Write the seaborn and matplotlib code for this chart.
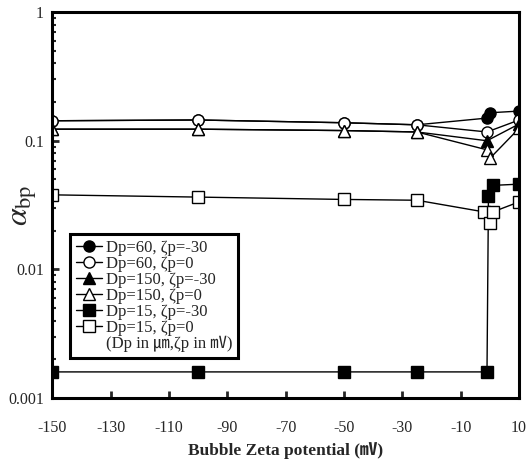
import matplotlib
matplotlib.use("Agg")
import matplotlib.pyplot as plt
from matplotlib.lines import Line2D
from matplotlib.ticker import FixedLocator, LogLocator, NullFormatter
import numpy as np
import pandas as pd
import seaborn as sns

# Bubble zeta potential (mV) and collision-attachment efficiency alpha_bp
x_d60_m30 = [-150, -100, -50, -25, -1, 0, 10]
y_d60_m30 = [0.143, 0.145, 0.138, 0.133, 0.15, 0.165, 0.17]

x_d60_0 = [-150, -100, -50, -25, -1, 10]
y_d60_0 = [0.143, 0.145, 0.138, 0.133, 0.117, 0.145]

x_d150_m30 = [-150, -100, -50, -25, -1, 10]
y_d150_m30 = [0.123, 0.123, 0.12, 0.117, 0.10, 0.135]

x_d150_0 = [-150, -100, -50, -25, -1, 0, 10]
y_d150_0 = [0.123, 0.123, 0.12, 0.117, 0.085, 0.073, 0.125]

x_d15_m30 = [-150, -100, -50, -25, -1, -0.5, 1, 10]
y_d15_m30 = [0.0016, 0.0016, 0.0016, 0.0016, 0.0016, 0.037, 0.045, 0.046]

x_d15_0 = [-150, -100, -50, -25, -2, 0, 1, 10]
y_d15_0 = [0.038, 0.0365, 0.035, 0.0345, 0.028, 0.023, 0.028, 0.0335]

series_labels = ["Dp=60, ζp=-30", "Dp=60, ζp=0", "Dp=150, ζp=-30",
                 "Dp=150, ζp=0", "Dp=15, ζp=-30", "Dp=15, ζp=0"]
unit_note = "(Dp in ㎛,ζp in ㎷)"

x_ticks = [-150, -130, -110, -90, -70, -50, -30, -10, 10]
y_ticks = [0.001, 0.01, 0.1, 1]
y_tick_labels = ["0.001", "0.01", "0.1", "1"]

sns.set_theme(style="ticks")
plt.rcParams["font.family"] = ["Liberation Serif", "Noto Sans CJK JP"]
plt.rcParams["mathtext.fontset"] = "stix"

fig = plt.figure(figsize=(5.27, 4.63), dpi=100)
ax = fig.add_axes([0.099, 0.14, 0.886, 0.834])

series = [
    (x_d60_m30, y_d60_m30, "o", "black"),
    (x_d60_0, y_d60_0, "o", "white"),
    (x_d150_m30, y_d150_m30, "^", "black"),
    (x_d150_0, y_d150_0, "^", "white"),
    (x_d15_m30, y_d15_m30, "s", "black"),
    (x_d15_0, y_d15_0, "s", "white"),
]

handles = []
for (xs, ys, mk, face), lab in zip(series, series_labels):
    df = pd.DataFrame({"zeta": xs, "alpha": ys})
    sns.lineplot(data=df, x="zeta", y="alpha", ax=ax, sort=False,
                 color="black", linewidth=1.0, marker=mk, markersize=8,
                 markerfacecolor=face, markeredgecolor="black",
                 markeredgewidth=1.0, legend=False)
    handles.append(Line2D([], [], color="black", linewidth=1.0, marker=mk,
                          markersize=8, markerfacecolor=face,
                          markeredgecolor="black", label=lab))
handles.append(Line2D([], [], color="none", label=unit_note))

ax.set_yscale("log")
ax.set_xlim(-150, 10)
ax.set_ylim(0.001, 1)
ax.xaxis.set_major_locator(FixedLocator(x_ticks))
ax.set_xticklabels([str(t) for t in x_ticks])
ax.yaxis.set_major_locator(FixedLocator(y_ticks))
ax.set_yticklabels(y_tick_labels)
ax.yaxis.set_minor_locator(LogLocator(base=10, subs=np.arange(2, 10)))
ax.yaxis.set_minor_formatter(NullFormatter())

ax.tick_params(axis="x", which="major", direction="in", length=5, width=2,
               labelsize=11.5, pad=16, top=False)
ax.tick_params(axis="y", which="major", direction="in", length=5, width=2,
               labelsize=11.5, pad=6, right=False)
ax.tick_params(axis="y", which="minor", direction="in", length=3, width=1.5,
               right=False)

for sp in ax.spines.values():
    sp.set_visible(True)
    sp.set_linewidth(2.2)
    sp.set_color("black")

ax.set_xlabel("Bubble Zeta potential (㎷)", fontsize=12.5, fontweight="bold",
              labelpad=4)
ax.set_ylabel(r"$\alpha_{\mathrm{bp}}$", fontsize=23)
ax.yaxis.set_label_coords(-0.028, 0.5)

leg = ax.legend(handles=handles, loc="lower left",
                bbox_to_anchor=(0.038, 0.104), frameon=True, fancybox=False,
                fontsize=12, handlelength=1.6, handletextpad=0.2,
                labelspacing=0.0, borderpad=0.35, borderaxespad=0)
leg.get_frame().set_edgecolor("black")
leg.get_frame().set_linewidth(2.2)
leg.get_frame().set_alpha(1)

fig.savefig("out.png", dpi=100)
